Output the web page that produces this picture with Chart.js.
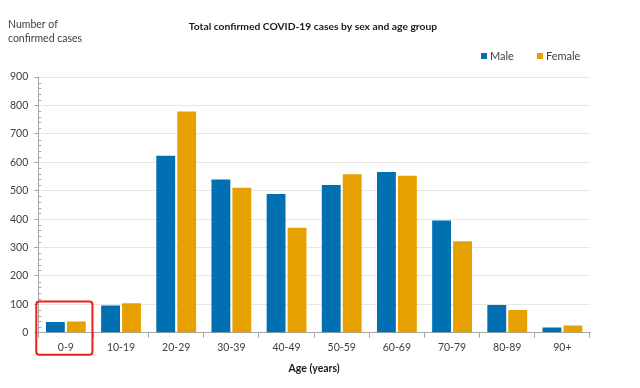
<!DOCTYPE html>
<html>
<head>
<meta charset="utf-8">
<script src="https://cdn.jsdelivr.net/npm/chart.js@4.4.1/dist/chart.umd.min.js"></script>
<style>
  html, body { margin: 0; padding: 0; background: #fff; }
  #wrap { width: 640px; height: 388px; }
</style>
</head>
<body>
<div id="wrap"><canvas id="mychart" width="640" height="388"></canvas></div>
<script>
// data
var ageGroups = ['0-9', '10-19', '20-29', '30-39', '40-49', '50-59', '60-69', '70-79', '80-89', '90+'];
var maleCases = [38, 96, 623, 539, 488, 520, 566, 395, 98, 19];
var femaleCases = [40, 104, 779, 510, 370, 558, 553, 322, 80, 26];
var yTicks = [0, 100, 200, 300, 400, 500, 600, 700, 800, 900];

var fontName = 'Lato, "Open Sans", sans-serif';
var axisGrey = '#a6a6a6';

// title, y title, legend, minor ticks and the red box round the first label
var extras = {
    id: 'extras',
    afterDraw: function (chart) {
        var ctx = chart.ctx;
        var area = chart.chartArea;
        var x = chart.scales.x;
        var y = chart.scales.y;
        ctx.save();

        ctx.fillStyle = '#1a1a1a';
        ctx.textBaseline = 'middle';
        ctx.textAlign = 'center';
        ctx.font = 'bold 10.3px ' + fontName;
        ctx.fillText('Total confirmed COVID-19 cases by sex and age group', 313, 27);

        ctx.fillStyle = '#404040';
        ctx.textAlign = 'left';
        ctx.font = '10.5px ' + fontName;
        ctx.fillText('Number of', 8, 25);
        ctx.fillText('confirmed cases', 8, 39);

        // legend
        var lx = 481;
        ctx.font = '11px ' + fontName;
        chart.data.datasets.forEach(function (ds) {
            ctx.fillStyle = ds.backgroundColor;
            ctx.fillRect(lx, 53, 6, 6);
            ctx.fillStyle = '#404040';
            ctx.fillText(ds.label, lx + 9, 56);
            lx += 9 + ctx.measureText(ds.label).width + 23;
        });

        // minor ticks on the y axis
        ctx.strokeStyle = axisGrey;
        ctx.lineWidth = 1;
        for (var v = 0; v <= yTicks[yTicks.length - 1]; v += 20) {
            if (v % 100 === 0) continue;
            var py = Math.round(y.getPixelForValue(v)) + 0.5;
            ctx.beginPath();
            ctx.moveTo(area.left, py);
            ctx.lineTo(area.left + 3, py);
            ctx.stroke();
        }

        // red highlight box
        var half = (x.getPixelForValue(1) - x.getPixelForValue(0)) / 2;
        var bx = x.getPixelForValue(0) - half - 2;
        var bw = half * 2 + 1;
        var by = y.getPixelForValue(110);
        var bh = area.bottom + 22 - by;
        ctx.strokeStyle = '#e8231f';
        ctx.lineWidth = 2;
        ctx.beginPath();
        ctx.roundRect(bx, by, bw, bh, 3);
        ctx.stroke();

        ctx.restore();
    }
};

const ctr = document.getElementById('mychart');

new Chart(ctr, {
    type: 'bar',
    data: {
        labels: ageGroups,
        datasets: [{
            label: 'Male',
            data: maleCases,
            backgroundColor: '#0070b3',
            categoryPercentage: 0.76,
            barPercentage: 0.9
        }, {
            label: 'Female',
            data: femaleCases,
            backgroundColor: '#e6a100',
            categoryPercentage: 0.76,
            barPercentage: 0.9
        }]
    },
    options: {
        responsive: false,
        animation: false,
        layout: {
            padding: { top: 77, left: 4, right: 50, bottom: 9 }
        },
        plugins: {
            legend: { display: false },
            title: { display: false },
            tooltip: { enabled: false }
        },
        scales: {
            x: {
                grid: {
                    offset: true,
                    drawOnChartArea: false,
                    drawTicks: true,
                    tickLength: 5,
                    tickColor: axisGrey
                },
                border: { display: true, color: axisGrey },
                ticks: {
                    color: '#404040',
                    padding: 4,
                    font: { family: fontName, size: 10.5 }
                },
                title: {
                    display: true,
                    text: 'Age (years)',
                    color: '#1a1a1a',
                    padding: { top: 4, bottom: 4 },
                    font: { family: fontName, size: 10.5, weight: 'bold' }
                }
            },
            y: {
                min: 0,
                max: yTicks[yTicks.length - 1],
                afterBuildTicks: function (axis) {
                    axis.ticks = yTicks.map(function (v) { return { value: v }; });
                },
                grid: {
                    color: '#e6e6e6',
                    tickColor: axisGrey,
                    tickLength: 4
                },
                border: { display: true, color: axisGrey },
                ticks: {
                    color: '#404040',
                    padding: 6,
                    font: { family: fontName, size: 10.5 }
                }
            }
        }
    },
    plugins: [extras]
});
</script>
</body>
</html>
